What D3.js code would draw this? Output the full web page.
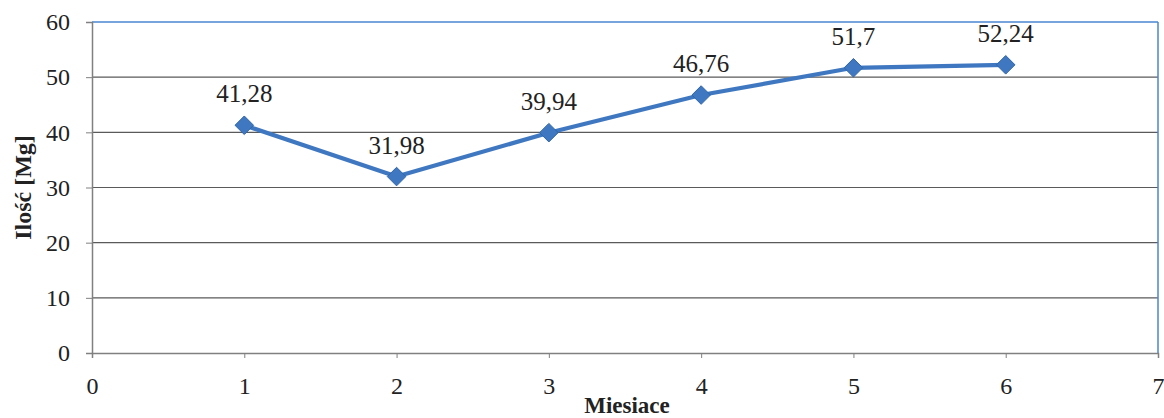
<!DOCTYPE html>
<html><head><meta charset="utf-8">
<script src="https://cdn.jsdelivr.net/npm/d3@7"></script>
<style>body{margin:0;background:#fff}svg{display:block}
.serif{font-family:"Liberation Serif","Tinos","Times New Roman","DejaVu Serif",serif}</style>
</head><body>
<script>
const months = [1, 2, 3, 4, 5, 6];
const values = [41.28, 31.98, 39.94, 46.76, 51.7, 52.24];
const xTicks = [0, 1, 2, 3, 4, 5, 6, 7];
const yTicks = [0, 10, 20, 30, 40, 50, 60];

const W = 1164, H = 418;
const m = {left: 92, right: 6, top: 22, bottom: 65};
const svg = d3.select("body").append("svg").attr("width", W).attr("height", H);
const x = d3.scaleLinear().domain([0, 7]).range([m.left, W - m.right]);
const y = d3.scaleLinear().domain([0, 60]).range([H - m.bottom, m.top]);

// gridlines
svg.append("g").selectAll("line").data(yTicks.filter(d => d > 0 && d < 60)).join("line")
  .attr("x1", x(0)).attr("x2", x(7)).attr("y1", d => y(d)).attr("y2", d => y(d))
  .attr("stroke", "#5a5a5a").attr("stroke-width", 1.2);

// top & right border (blue)
svg.append("line").attr("x1", x(0)).attr("x2", x(7)).attr("y1", y(60)).attr("y2", y(60))
  .attr("stroke", "#4a86d0").attr("stroke-width", 1.5);
svg.append("line").attr("x1", x(7)).attr("x2", x(7)).attr("y1", y(60)).attr("y2", y(0))
  .attr("stroke", "#4a86d0").attr("stroke-width", 1.5);

// axes
const yAxis = svg.append("g").attr("transform", `translate(${x(0)},0)`)
  .call(d3.axisLeft(y).tickValues(yTicks).tickSize(6).tickPadding(16).tickFormat(d3.format("d")));
const xAxis = svg.append("g").attr("transform", `translate(0,${y(0)})`)
  .call(d3.axisBottom(x).tickValues(xTicks).tickSize(5).tickPadding(19).tickFormat(d3.format("d")));
[yAxis, xAxis].forEach(g => {
  g.attr("font-family", null).attr("font-size", null).attr("class", "serif");
  g.select(".domain").attr("stroke", "#808080").attr("stroke-width", 1.5);
  g.selectAll(".tick line").attr("stroke", "#808080");
  g.selectAll("text").attr("class", "serif").style("font-size", "24px").attr("fill", "#222");
});

// line
const data = months.map((d, i) => ({m: d, v: values[i]}));
svg.append("path").datum(data)
  .attr("d", d3.line().x(d => x(d.m)).y(d => y(d.v)))
  .attr("fill", "none").attr("stroke", "#3f78c0").attr("stroke-width", 4.2)
  .attr("stroke-linejoin", "round");

// markers
svg.append("g").selectAll("path").data(data).join("path")
  .attr("transform", d => `translate(${x(d.m)},${y(d.v)})`)
  .attr("d", d3.symbol(d3.symbolDiamond2, 220)())
  .attr("fill", "#3f78c0").attr("stroke", "#2f65a8").attr("stroke-width", 1);

// labels
svg.append("g").selectAll("text").data(data).join("text")
  .attr("class", "serif")
  .attr("x", d => x(d.m)).attr("y", d => y(d.v) - 23)
  .attr("text-anchor", "middle")
  .style("font-size", "25px").attr("fill", "#222")
  .text(d => String(d.v).replace(".", ","));

// axis titles
svg.append("text").attr("class", "serif").attr("x", (x(0) + x(7)) / 2 + 2).attr("y", 413)
  .attr("text-anchor", "middle").attr("font-weight", "bold")
  .style("font-size", "23px").attr("fill", "#222").text("Miesiace");
svg.append("text").attr("class", "serif").attr("transform", `translate(31,${(y(0) + y(60)) / 2}) rotate(-90)`)
  .attr("text-anchor", "middle").attr("font-weight", "bold")
  .style("font-size", "24px").attr("fill", "#222").text("Ilość [Mg]");
</script>
</body></html>
